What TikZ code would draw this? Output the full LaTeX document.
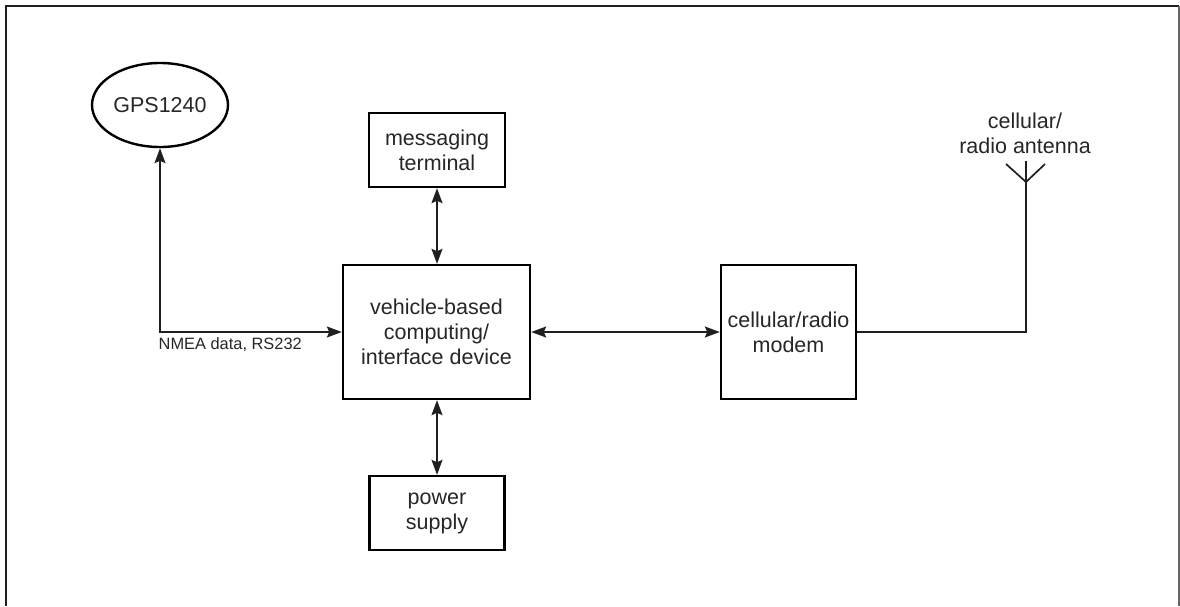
\documentclass[tikz,border=0pt]{standalone}
\usepackage{fontspec}
\setmainfont{Liberation Sans}
\usetikzlibrary{arrows.meta,shapes.geometric}
\begin{document}
\begin{tikzpicture}[x=1pt,y=-1pt,
  blk/.style={draw, line width=2.4pt, rectangle, inner sep=0pt, align=center,
    font=\fontsize{21.5}{25}\selectfont, text=black!85},
  oval/.style={draw, line width=2.4pt, ellipse, inner sep=0pt,
    minimum width=136pt, minimum height=84pt,
    font=\fontsize{21.5}{25}\selectfont, text=black!85},
  lnk/.style={line width=1.7pt, draw=black!88},
  dbl/.style={lnk, {Stealth[length=15pt,width=11pt,inset=2.5pt]}-{Stealth[length=15pt,width=11pt,inset=2.5pt]}},
  lbl/.style={inner sep=0pt, align=center, text=black!85}]
  \useasboundingbox (0,0) rectangle (1180,606);
  % outer frame, open at the bottom
  \draw[line width=2.2pt, draw=black!88] (6,606) -- (6,6) -- (1179,6);
  \draw[line width=1.4pt, draw=black!60] (1179,6) -- (1179,606);

  % blocks
  \node[oval] (gps) at (160,105) {GPS1240};
  \node[blk, minimum width=136pt, minimum height=74pt] (msg) at (437,150) {messaging\\terminal};
  \node[blk, minimum width=187pt, minimum height=134pt] (comp) at (436.5,332) {vehicle-based\\computing/\\interface device};
  \node[blk, minimum width=135pt, minimum height=74pt] (pwr) at (437,513) {power\\supply};
  \node[blk, minimum width=135pt, minimum height=134pt] (modem) at (788.5,332) {cellular/radio\\modem};

  % antenna
  \coordinate (ant) at (1026,182);
  \coordinate (antL) at (1006,164);
  \coordinate (antR) at (1045,164);
  \coordinate (antT) at (1026,161);
  \node[lbl, font=\fontsize{21.5}{25}\selectfont] (antlbl) at (1025,133) {cellular/\\radio antenna};

  % connectors
  \draw[dbl] (gps.south) |- (comp.west);
  \node[lbl, anchor=west, font=\fontsize{16.4}{19}\selectfont] (nmea) at (158.5,344.5) {NMEA data, RS232};
  \draw[dbl] (msg.south) -- (msg.south |- comp.north);
  \draw[dbl] (pwr.north) -- (pwr.north |- comp.south);
  \draw[dbl] (comp.east) -- (modem.west);
  \draw[lnk, line join=miter] (modem.east) -| (ant);
  \draw[lnk] (antL) -- (ant) -- (antR);
  \draw[lnk] (ant) -- (antT);
\end{tikzpicture}
\end{document}
